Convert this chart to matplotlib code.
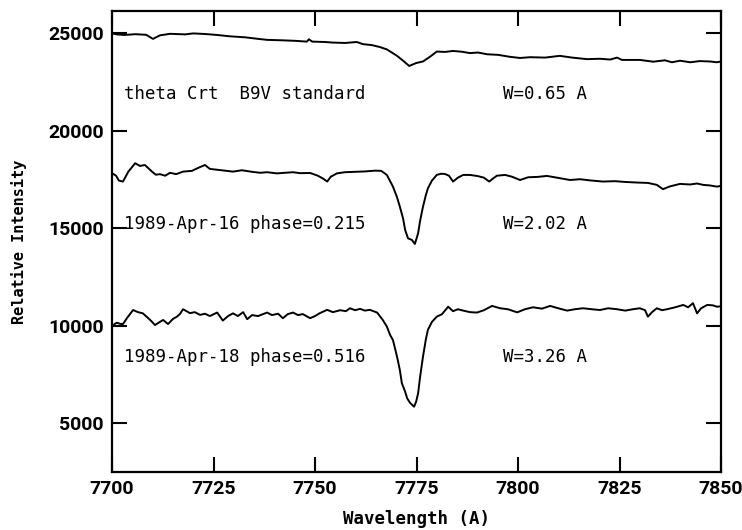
import matplotlib
matplotlib.use("Agg")
import matplotlib.pyplot as plt

# ---- data ----
wave_std = [7700.0, 7701.2, 7703.0, 7705.7, 7708.4, 7710.1, 7711.8, 7714.3, 7718.0, 7720.0,
            7722.9, 7725.9, 7729.1, 7732.8, 7736.0, 7738.2, 7741.4, 7745.1, 7748.0, 7748.5,
            7749.3, 7752.5, 7754.4, 7757.4, 7760.3, 7761.8, 7764.0, 7766.0, 7767.7, 7770.2,
            7771.7, 7773.2, 7774.9, 7776.6, 7778.3, 7780.0, 7782.0, 7784.0, 7786.2, 7788.2,
            7790.1, 7792.4, 7795.1, 7798.0, 7800.5, 7803.0, 7806.7, 7810.3, 7813.3, 7817.0,
            7820.2, 7822.7, 7824.4, 7825.6, 7830.0, 7833.3, 7836.2, 7837.9, 7839.9, 7842.4,
            7844.8, 7847.3, 7849.0, 7850.0]
flux_std = [25000, 24950, 24920, 24960, 24930, 24720, 24900, 24980, 24950, 25000,
            24970, 24920, 24850, 24800, 24720, 24670, 24650, 24620, 24580, 24700,
            24580, 24560, 24530, 24510, 24560, 24450, 24400, 24300, 24180, 23850,
            23600, 23330, 23480, 23560, 23800, 24070, 24050, 24100, 24060, 23990,
            24020, 23930, 23900, 23800, 23740, 23780, 23760, 23850, 23760, 23680,
            23700, 23660, 23760, 23640, 23640, 23550, 23620, 23520, 23600, 23520,
            23580, 23560, 23520, 23560]

wave_apr16 = [7700.0, 7701.0, 7701.7, 7702.7, 7704.0, 7705.7, 7706.9, 7708.1, 7709.9, 7710.8,
              7711.8, 7713.1, 7714.3, 7715.8, 7717.5, 7719.7, 7721.2, 7722.9, 7724.1, 7726.1,
              7727.8, 7729.8, 7732.0, 7734.5, 7736.5, 7738.2, 7740.6, 7742.6, 7744.6, 7746.3,
              7748.8, 7750.7, 7752.0, 7753.0, 7753.9, 7755.4, 7757.4, 7759.9, 7762.3, 7764.8,
              7766.3, 7767.7, 7769.2, 7770.2, 7770.9, 7771.7, 7772.2, 7772.9, 7773.9, 7774.6,
              7775.4, 7775.9, 7776.6, 7777.3, 7777.8, 7778.8, 7780.0, 7781.0, 7782.0, 7783.0,
              7784.0, 7785.2, 7786.5, 7788.2, 7790.1, 7791.6, 7792.9, 7793.8, 7794.8, 7796.8,
              7798.5, 7800.5, 7802.5, 7804.9, 7807.1, 7809.6, 7812.8, 7815.3, 7817.7, 7820.9,
              7823.9, 7826.4, 7829.3, 7832.0, 7834.2, 7835.7, 7837.4, 7839.9, 7842.4, 7844.1,
              7845.6, 7847.3, 7849.0, 7850.0]
flux_apr16 = [17830, 17700, 17450, 17400, 17900, 18340, 18200, 18250, 17900, 17750,
              17780, 17700, 17850, 17780, 17910, 17950, 18100, 18250, 18050, 18000,
              17960, 17910, 17980, 17900, 17850, 17880, 17820, 17850, 17880, 17830,
              17840, 17700, 17550, 17400, 17650, 17820, 17880, 17900, 17920, 17960,
              17950, 17740, 17140, 16600, 16110, 15500, 14920, 14490, 14400, 14200,
              14750, 15400, 16110, 16700, 17050, 17450, 17740, 17800, 17790, 17700,
              17400, 17600, 17740, 17740, 17680, 17600, 17400, 17550, 17700, 17740,
              17650, 17480, 17620, 17640, 17690, 17600, 17480, 17520, 17460, 17400,
              17420, 17380, 17350, 17330, 17230, 17010, 17150, 17280, 17250, 17300,
              17230, 17200, 17140, 17180]

wave_apr18 = [7700.0, 7700.7, 7701.2, 7702.0, 7702.7, 7703.7, 7705.2, 7706.4, 7707.6, 7709.4,
              7710.6, 7711.8, 7712.6, 7713.8, 7715.0, 7716.0, 7716.7, 7717.5, 7719.2, 7720.4,
              7721.7, 7722.9, 7724.1, 7725.9, 7727.3, 7728.6, 7729.8, 7731.0, 7732.3, 7733.3,
              7734.5, 7736.0, 7737.2, 7738.2, 7739.4, 7740.9, 7742.1, 7743.3, 7744.6, 7745.8,
              7747.0, 7748.8, 7750.0, 7751.2, 7753.0, 7754.4, 7756.2, 7757.6, 7758.6, 7759.9,
              7761.1, 7762.3, 7763.5, 7765.3, 7766.7, 7767.7, 7768.5, 7769.2, 7770.2, 7770.9,
              7771.4, 7772.2, 7772.7, 7773.4, 7774.4, 7774.9, 7775.4, 7775.9, 7776.6, 7777.3,
              7777.8, 7778.8, 7780.0, 7781.3, 7782.8, 7784.0, 7785.2, 7786.5, 7788.2, 7789.9,
              7791.6, 7793.6, 7795.6, 7797.5, 7799.8, 7801.7, 7803.7, 7805.9, 7807.9, 7809.9,
              7812.1, 7814.0, 7816.0, 7818.2, 7820.2, 7822.2, 7824.4, 7826.4, 7828.3, 7830.0,
              7831.3, 7832.0, 7833.0, 7834.2, 7835.5, 7836.7, 7838.7, 7840.7, 7841.9, 7843.1,
              7844.1, 7845.1, 7846.6, 7848.0, 7849.0, 7850.0]
flux_apr18 = [9960, 10100, 10160, 10100, 10090, 10400, 10810, 10700, 10640, 10300,
              10040, 10200, 10300, 10090, 10350, 10470, 10600, 10850, 10650, 10700,
              10560, 10620, 10500, 10680, 10270, 10500, 10640, 10500, 10700, 10340,
              10550, 10500, 10600, 10680, 10550, 10620, 10390, 10600, 10680, 10550,
              10600, 10390, 10500, 10650, 10820, 10700, 10800, 10750, 10900, 10800,
              10870, 10780, 10820, 10680, 10300, 9960, 9530, 9270, 8420, 7730,
              7050, 6620, 6280, 6050, 5850, 6100, 6540, 7400, 8420, 9300,
              9790, 10200, 10470, 10600, 10980, 10750, 10850, 10780, 10700, 10680,
              10800, 11020, 10900, 10850, 10690, 10850, 10950, 10880, 11020, 10900,
              10780, 10850, 10900, 10850, 10810, 10900, 10850, 10780, 10850, 10900,
              10800, 10470, 10700, 10900, 10800, 10850, 10950, 11070, 10950, 11160,
              10640, 10900, 11070, 11050, 10980, 11000]

labels_left = ["theta Crt  B9V standard", "1989-Apr-16 phase=0.215", "1989-Apr-18 phase=0.516"]
labels_right = ["W=0.65 A", "W=2.02 A", "W=3.26 A"]
label_y = [21880, 15200, 8400]

x_ticks = [7700, 7725, 7750, 7775, 7800, 7825, 7850]
y_ticks = [5000, 10000, 15000, 20000, 25000]

# ---- figure ----
fig = plt.figure(figsize=(7.42, 5.30), dpi=100)
ax = fig.add_axes([112/742, 1 - 472/530, (721 - 112)/742, (472 - 11)/530])

for w, f in [(wave_std, flux_std), (wave_apr16, flux_apr16), (wave_apr18, flux_apr18)]:
    ax.plot(w, f, color="black", lw=1.4, solid_joinstyle="round")

ax.set_xlim(7700, 7850)
ax.set_ylim(2500, 26150)
ax.set_xticks(x_ticks)
ax.set_yticks(y_ticks)

tick_font = dict(family=["Roboto", "DejaVu Sans"], weight="bold", size=14)
ax.set_xticklabels([str(t) for t in x_ticks], fontdict=tick_font)
ax.set_yticklabels([str(t) for t in y_ticks], fontdict=tick_font)
ax.tick_params(direction="in", length=11, width=1.5, top=True, right=True, pad=6)
for s in ax.spines.values():
    s.set_linewidth(1.6)

ann_font = dict(family="DejaVu Sans Mono", size=12.5, color="black", va="center", ha="left")
for lab, yv in zip(labels_left, label_y):
    ax.text(7703.0, yv, lab, **ann_font)
for lab, yv in zip(labels_right, label_y):
    ax.text(7796.2, yv, lab, **ann_font)

ax.set_xlabel("Wavelength (A)", family="DejaVu Sans Mono", weight="bold", size=12.5)
ax.xaxis.set_label_coords(0.5, -0.082)
ax.set_ylabel("Relative Intensity", family="DejaVu Sans Mono", weight="bold", size=11)
ax.yaxis.set_label_coords(-0.14, 0.5)

fig.savefig("out.png", dpi=100)
